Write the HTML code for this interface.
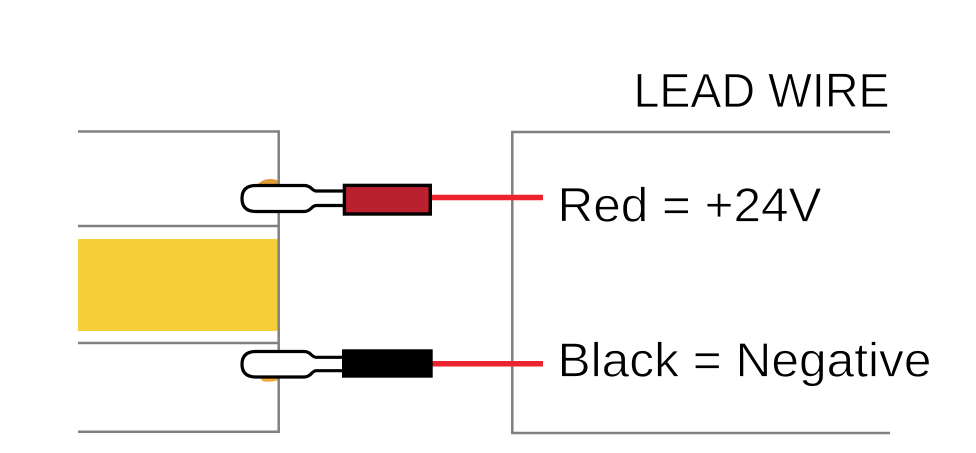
<!DOCTYPE html>
<html>
<head>
<meta charset="utf-8">
<style>
html,body{margin:0;padding:0;background:#fff;}
svg{display:block;}
text{font-family:"Liberation Sans",sans-serif;fill:#000;stroke:#fff;stroke-width:.8px;}
</style>
</head>
<body>
<svg width="976" height="453" viewBox="0 0 976 453" xmlns="http://www.w3.org/2000/svg">
<rect width="976" height="453" fill="#fff"/>
<rect x="78" y="239" width="200" height="92" fill="#f6cf38"/>
<path d="M256 186 Q262 179 270 179 Q276 179 279 181 L279 186Z" fill="#e19a3a"/>
<path d="M260 377 L279 377 L279 380 Q270 382.500 264 381.500 Q261 380.500 260 377Z" fill="#f3a93c"/>
<g fill="none" stroke="#808080" stroke-width="2.500">
<path d="M78 131.500H278.700V431.700H78"/>
<path d="M78 226H279.500"/>
<path d="M78 343H279.500"/>
<path d="M890 132H512.300V433H890"/>
</g>
<path d="M432 197.500H543" stroke="#ee2330" stroke-width="5.500" fill="none"/>
<path d="M432 363.700H543" stroke="#ee2330" stroke-width="5.500" fill="none"/>
<path d="M344 191H316Q314 191 311 188Q308 185.500 304 185.500H256Q242 185.500 242 198.500Q242 211.500 256 211.500H304Q308 211.500 311 208.500Q314 205.500 316 205.500H344" fill="#fff" stroke="#000" stroke-width="3.200"/>
<rect x="344.400" y="185.400" width="85.900" height="28.600" fill="#bb202e" stroke="#000" stroke-width="3.400"/>
<path d="M344 357.300H316Q314 357.300 311 354.500Q308 351.500 304 351.500H256Q242 351.500 242 364.300Q242 377 256 377H304Q308 377 311 374Q314 370.700 316 370.700H344" fill="#fff" stroke="#000" stroke-width="3.200"/>
<rect x="342" y="349.300" width="90.700" height="28.400" fill="#000"/>
<text x="633.500" y="107" font-size="48" textLength="256" lengthAdjust="spacingAndGlyphs">LEAD WIRE</text>
<text x="557.500" y="221.500" font-size="48" textLength="264" lengthAdjust="spacingAndGlyphs">Red = +24V</text>
<text x="557.500" y="376.500" font-size="48" textLength="374" lengthAdjust="spacingAndGlyphs">Black = Negative</text>
</svg>
</body>
</html>
